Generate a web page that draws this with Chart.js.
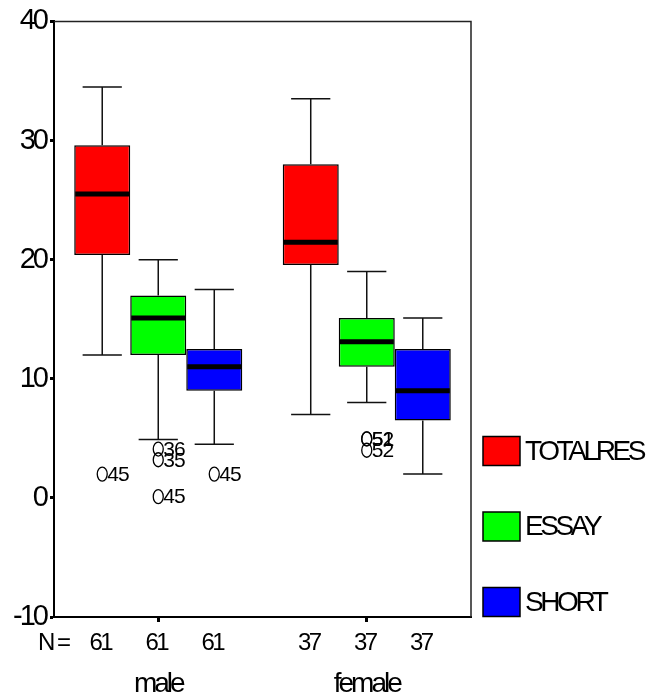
<!DOCTYPE html>
<html>
<head>
<meta charset="utf-8">
<script src="https://cdn.jsdelivr.net/npm/chart.js@4"></script>
<style>
  html, body { margin: 0; padding: 0; background: #fff; }
  #wrap { width: 649px; height: 698px; }
</style>
</head>
<body>
<div id="wrap"><canvas id="boxChart"></canvas></div>
<script>
// categories and series
const categories = ['male', 'female'];
const seriesNames = ['TOTALRES', 'ESSAY', 'SHORT'];
const seriesColors = ['#ff0000', '#00ff00', '#0000ff'];
const groupCounts = [61, 37];

// box statistics, rows = series (TOTALRES, ESSAY, SHORT), columns = male, female
const q1Values     = [[20.4, 19.55], [12.0, 11.0], [9.0, 6.5]];
const q3Values     = [[29.6, 28.0],  [17.0, 15.1], [12.5, 12.5]];
const medianValues = [[25.5, 21.45], [15.1, 13.1], [11.0, 9.0]];
const whiskerLow   = [[12.0, 7.0],   [4.9, 8.0],   [4.5, 2.0]];
const whiskerHigh  = [[34.5, 33.5],  [20.0, 19.0], [17.5, 15.1]];

// outliers
const outlierSeries = [0, 1, 1, 1, 2, 1, 1, 1];
const outlierGroup  = [0, 0, 0, 0, 0, 1, 1, 1];
const outlierValues = [2.0, 4.1, 3.2, 0.1, 2.0, 4.95, 4.95, 4.0];
const outlierLabels = ['45', '36', '35', '45', '45', '51', '52', '52'];

// y axis ticks
const yMin = -10, yMax = 40, yStep = 10;

const FONT = '"Liberation Sans", Arial, sans-serif';

const boxExtras = {
  id: 'boxExtras',
  beforeDraw(chart) {
    // squeeze the text like the SPSS output
    chart.ctx.letterSpacing = '-3px';
  },
  afterDatasetsDraw(chart) {
    const ctx = chart.ctx;
    const area = chart.chartArea;
    const y = chart.scales.y;
    ctx.save();

    // frame top and right
    ctx.strokeStyle = '#222';
    ctx.lineWidth = 1.5;
    ctx.beginPath();
    ctx.moveTo(area.left, area.top);
    ctx.lineTo(area.right, area.top);
    ctx.lineTo(area.right, area.bottom);
    ctx.stroke();

    chart.data.datasets.forEach((ds, d) => {
      const meta = chart.getDatasetMeta(d);
      meta.data.forEach((bar, i) => {
        const x = bar.x, w = bar.width;
        const cap = w * 0.35;
        const pLow = y.getPixelForValue(whiskerLow[d][i]);
        const pHigh = y.getPixelForValue(whiskerHigh[d][i]);
        const pQ1 = y.getPixelForValue(q1Values[d][i]);
        const pQ3 = y.getPixelForValue(q3Values[d][i]);
        const pMed = y.getPixelForValue(medianValues[d][i]);

        ctx.strokeStyle = '#111';
        ctx.lineWidth = 1.5;
        ctx.beginPath();
        ctx.moveTo(x, pQ3); ctx.lineTo(x, pHigh);
        ctx.moveTo(x - cap, pHigh); ctx.lineTo(x + cap, pHigh);
        ctx.moveTo(x, pQ1); ctx.lineTo(x, pLow);
        ctx.moveTo(x - cap, pLow); ctx.lineTo(x + cap, pLow);
        ctx.stroke();

        ctx.strokeStyle = '#000';
        ctx.lineWidth = 5;
        ctx.beginPath();
        ctx.moveTo(x - w / 2 + 1, pMed); ctx.lineTo(x + w / 2 - 1, pMed);
        ctx.stroke();
      });
    });

    // outliers
    ctx.letterSpacing = '-1px';
    ctx.font = '21px ' + FONT;
    ctx.textBaseline = 'middle';
    ctx.textAlign = 'left';
    ctx.fillStyle = '#000';
    ctx.strokeStyle = '#000';
    ctx.lineWidth = 1.3;
    outlierValues.forEach((v, k) => {
      const bar = chart.getDatasetMeta(outlierSeries[k]).data[outlierGroup[k]];
      const py = y.getPixelForValue(v);
      ctx.beginPath();
      ctx.ellipse(bar.x, py, 5, 7, 0, 0, Math.PI * 2);
      ctx.stroke();
      ctx.fillText(outlierLabels[k], bar.x + 5, py + 1);
    });

    // N row
    ctx.letterSpacing = '-2.5px';
    ctx.font = '24px ' + FONT;
    ctx.textBaseline = 'middle';
    ctx.textAlign = 'left';
    ctx.fillText('N =', 38, 643);
    ctx.textAlign = 'center';
    chart.data.datasets.forEach((ds, d) => {
      chart.getDatasetMeta(d).data.forEach((bar, i) => {
        ctx.fillText(String(groupCounts[i]), bar.x - 2, 643);
      });
    });

    // legend
    ctx.letterSpacing = '-3.4px';
    ctx.font = '28px ' + FONT;
    ctx.textAlign = 'left';
    chart.data.datasets.forEach((ds, d) => {
      const cy = area.bottom - 15 - (chart.data.datasets.length - 1 - d) * 75.5;
      ctx.fillStyle = ds.backgroundColor;
      ctx.fillRect(483, cy - 14.5, 37, 29);
      ctx.strokeStyle = '#000';
      ctx.lineWidth = 1.5;
      ctx.strokeRect(483, cy - 14.5, 37, 29);
      ctx.fillStyle = '#000';
      ctx.fillText(ds.label, 525, cy + 1);
    });
    ctx.restore();
  }
};

const datasets = seriesNames.map((name, d) => ({
  label: name,
  data: categories.map((c, i) => [q1Values[d][i], q3Values[d][i]]),
  backgroundColor: seriesColors[d],
  borderColor: '#000',
  borderWidth: 1.5,
  borderSkipped: false,
  categoryPercentage: 0.806,
  barPercentage: 1.0
}));

const ctx = document.getElementById('boxChart').getContext('2d');
new Chart(ctx, {
  type: 'bar',
  data: { labels: categories, datasets: datasets },
  options: {
    responsive: true,
    maintainAspectRatio: false,
    animation: false,
    layout: { padding: { top: 21, right: 178, left: 0, bottom: 0 } },
    plugins: {
      legend: { display: false },
      tooltip: { enabled: false }
    },
    scales: {
      x: {
        grid: { drawOnChartArea: false, offset: false, tickLength: 5, tickWidth: 3, tickColor: '#000' },
        border: { display: true, color: '#000', width: 2 },
        ticks: { color: '#000', font: { family: FONT, size: 28 }, padding: 45 },
        afterFit(scale) { scale.height = 81; }
      },
      y: {
        min: yMin,
        max: yMax,
        grid: { drawOnChartArea: false, tickLength: 4, tickWidth: 3, tickColor: '#000' },
        border: { display: true, color: '#000', width: 2 },
        ticks: { stepSize: yStep, color: '#000', font: { family: FONT, size: 29 }, padding: 4 },
        afterFit(scale) { scale.width = 54; }
      }
    }
  },
  plugins: [boxExtras]
});
</script>
</body>
</html>
